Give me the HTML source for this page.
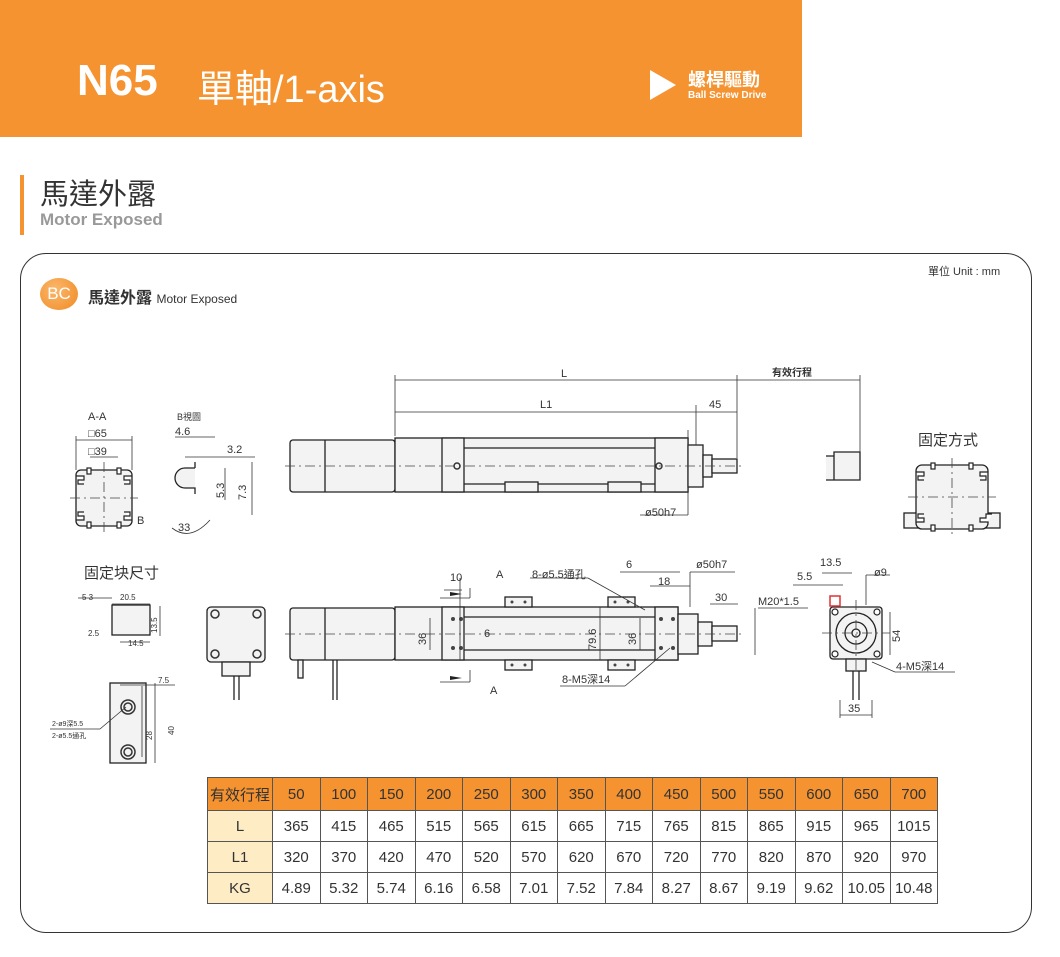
<!DOCTYPE html>
<html><head><meta charset="utf-8">
<style>
body{margin:0;width:1060px;height:957px;background:#fff;position:relative;overflow:hidden;font-family:"Liberation Sans","Noto Sans CJK TC",sans-serif;}
.hdr{position:absolute;left:0;top:0;width:802px;height:137px;background:#f59331;}
.abs{position:absolute;white-space:nowrap;}
svg text{font-family:"Liberation Sans","Noto Sans CJK TC",sans-serif;}
table{position:absolute;left:207px;top:777px;border-collapse:collapse;font-family:"Liberation Sans","Noto Sans CJK TC",sans-serif;font-size:15px;color:#333;}
td{border:1px solid #555;text-align:center;padding:0;width:46.5px;}
tr.h td{background:#f59331;height:32px;}
tr.r td{height:30px;}
td.f{background:#fdecc4;width:64px;}
tr.h td.f{background:#f59331;}
</style></head><body>
<div class="hdr"></div>
<div class="abs" style="left:77px;top:56px;font-size:44px;font-weight:bold;color:#fff;">N65</div>
<div class="abs" style="left:197px;top:58px;font-size:38px;color:#fff;">單軸/1-axis</div>
<div class="abs" style="left:650px;top:70px;width:0;height:0;border-left:26px solid #fff;border-top:15px solid transparent;border-bottom:15px solid transparent;"></div>
<div class="abs" style="left:688px;top:66px;font-size:18px;font-weight:bold;color:#fff;">螺桿驅動</div>
<div class="abs" style="left:688px;top:90px;font-size:10px;font-weight:bold;color:#fff;">Ball Screw Drive</div>
<div class="abs" style="left:20px;top:175px;width:4px;height:60px;background:#f59331;"></div>
<div class="abs" style="left:40px;top:171px;font-size:29px;color:#333;">馬達外露</div>
<div class="abs" style="left:40px;top:210px;font-size:17px;font-weight:bold;color:#999;">Motor Exposed</div>
<div class="abs" style="left:20px;top:253px;width:1010px;height:678px;border:1.5px solid #333;border-radius:26px;"></div>
<div class="abs" style="left:40px;top:278px;width:38px;height:32px;border-radius:50%;background:radial-gradient(circle at 40% 35%,#fbb76c,#f08a22);color:#fff;font-size:17px;text-align:center;line-height:32px;">BC</div>
<div class="abs" style="left:88px;top:284px;font-size:16px;font-weight:bold;color:#333;">馬達外露 <span style="font-weight:normal;font-size:12px;">Motor Exposed</span></div>
<div class="abs" style="left:928px;top:263px;font-size:11px;color:#333;">單位 Unit : mm</div>

<svg class="abs" style="left:0;top:0" width="1060" height="957" viewBox="0 0 1060 957">
<g stroke="#222" stroke-width="1.3" fill="#f3f3f3">
<rect x="290" y="440" width="105" height="52" rx="3"/>
<line x1="325" y1="440" x2="325" y2="492"/>
<rect x="395" y="438" width="293" height="54"/>
<rect x="442" y="438" width="22" height="54"/>
<rect x="655" y="438" width="33" height="54"/>
<rect x="688" y="445" width="15" height="42"/>
<rect x="703" y="455" width="9" height="22"/>
<rect x="712" y="459" width="25" height="14"/>
<line x1="464" y1="448" x2="655" y2="448"/><line x1="464" y1="484" x2="655" y2="484"/>
<rect x="505" y="482" width="33" height="10"/><rect x="608" y="482" width="33" height="10"/>
<rect x="290" y="608" width="105" height="52" rx="3"/>
<line x1="325" y1="608" x2="325" y2="660"/>
<rect x="395" y="607" width="283" height="53"/>
<rect x="442" y="607" width="22" height="53"/>
<rect x="655" y="607" width="23" height="53"/>
<rect x="678" y="614" width="20" height="40"/>
<rect x="698" y="622" width="14" height="24"/>
<rect x="712" y="626" width="25" height="15"/>
<line x1="464" y1="617" x2="655" y2="617"/><line x1="464" y1="650" x2="655" y2="650"/>
<rect x="505" y="597" width="27" height="10"/><rect x="608" y="597" width="27" height="10"/>
<rect x="505" y="660" width="27" height="10"/><rect x="608" y="660" width="27" height="10"/>
<rect x="298" y="660" width="5" height="18"/><line x1="333" y1="660" x2="333" y2="700"/><line x1="337" y1="660" x2="337" y2="700"/>
<path d="M826 456h8v24h-8M834 452h26v28h-26z"/>
<rect x="76" y="470" width="56" height="56" rx="5"/>
<rect x="904" y="513" width="18" height="15"/><rect x="982" y="513" width="18" height="15"/>
<rect x="916" y="465" width="72" height="64" rx="6"/>
<path d="M195 468h-10a10 10 0 0 0 0 20h10v6M195 468v-6" fill="#f3f3f3"/>
<rect x="207" y="607" width="58" height="55" rx="4"/>
<rect x="222" y="662" width="28" height="14"/>
<line x1="234" y1="676" x2="234" y2="700"/><line x1="239" y1="676" x2="239" y2="700"/>
<rect x="110" y="683" width="36" height="80"/>
<rect x="112" y="605" width="38" height="30"/>
<rect x="830" y="607" width="52" height="52" rx="3"/>
<circle cx="856" cy="633" r="20"/><circle cx="856" cy="633" r="11"/><circle cx="856" cy="633" r="4"/>
<rect x="846" y="659" width="20" height="12"/>
<line x1="853" y1="671" x2="853" y2="700"/><line x1="859" y1="671" x2="859" y2="700"/>
</g>
<g fill="#fff" stroke="#222" stroke-width="1.2">
<path d="M76 476h8v4h-6v4h6M132 476h-8v4h6v4h-6M76 520h8v-4h-6v-4h6M132 520h-8v-4h6v-4h-6"/>
<path d="M916 472h8v4h-6v4h6M988 472h-8v4h6v4h-6M916 522h8v-4h-6v-4h6M988 522h-8v-4h6v-4h6"/>
<rect x="87" y="522" width="4" height="6"/><rect x="117" y="522" width="4" height="6"/>
<rect x="87" y="468" width="4" height="6"/><rect x="117" y="468" width="4" height="6"/>
<rect x="931" y="525" width="4" height="6"/><rect x="969" y="525" width="4" height="6"/>
<rect x="931" y="463" width="4" height="6"/><rect x="969" y="463" width="4" height="6"/>
<circle cx="835" cy="612" r="3"/><circle cx="877" cy="612" r="3"/><circle cx="835" cy="654" r="3"/><circle cx="877" cy="654" r="3"/>
</g>
<rect x="830" y="596" width="10" height="10" fill="#fff" stroke="#d33" stroke-width="1.5"/>
<g fill="none" stroke="#333" stroke-width="1.5">
<circle cx="128" cy="707" r="7"/><circle cx="128" cy="707" r="4"/>
<circle cx="128" cy="752" r="7"/><circle cx="128" cy="752" r="4"/>
<circle cx="215" cy="614" r="4"/><circle cx="257" cy="614" r="4"/><circle cx="215" cy="654" r="4"/><circle cx="257" cy="654" r="4"/>
<circle cx="457" cy="466" r="3"/><circle cx="659" cy="466" r="3"/>
</g>
<g fill="#444">
<circle cx="453" cy="619" r="2"/><circle cx="461" cy="619" r="2"/><circle cx="453" cy="648" r="2"/><circle cx="461" cy="648" r="2"/>
<circle cx="661" cy="619" r="2"/><circle cx="673" cy="619" r="2"/><circle cx="661" cy="648" r="2"/><circle cx="673" cy="648" r="2"/>
<circle cx="512" cy="602" r="1.5"/><circle cx="525" cy="602" r="1.5"/><circle cx="615" cy="602" r="1.5"/><circle cx="628" cy="602" r="1.5"/>
<circle cx="512" cy="665" r="1.5"/><circle cx="525" cy="665" r="1.5"/><circle cx="615" cy="665" r="1.5"/><circle cx="628" cy="665" r="1.5"/>
</g>
<g stroke="#444" stroke-width="0.8" fill="none" stroke-dasharray="10,4,2,4">
<line x1="285" y1="466" x2="745" y2="466"/><line x1="285" y1="634" x2="745" y2="634"/>
<line x1="70" y1="498" x2="138" y2="498"/><line x1="104" y1="462" x2="104" y2="532"/>
<line x1="908" y1="497" x2="996" y2="497"/><line x1="952" y1="458" x2="952" y2="535"/>
<line x1="822" y1="633" x2="890" y2="633"/><line x1="856" y1="600" x2="856" y2="670"/>
</g>
<g stroke="#333" stroke-width="0.8" fill="none">
<line x1="395" y1="380" x2="860" y2="380"/><line x1="395" y1="412" x2="737" y2="412"/>
<line x1="395" y1="375" x2="395" y2="436"/><line x1="737" y1="375" x2="737" y2="458"/><line x1="860" y1="375" x2="860" y2="452"/>
<line x1="696" y1="405" x2="696" y2="445"/>
<line x1="688" y1="430" x2="688" y2="515"/><line x1="640" y1="515" x2="688" y2="515"/>
<line x1="76" y1="440" x2="132" y2="440"/><line x1="90" y1="457" x2="118" y2="457"/>
<line x1="76" y1="436" x2="76" y2="470"/><line x1="132" y1="436" x2="132" y2="470"/>
<line x1="175" y1="437" x2="215" y2="437"/><line x1="185" y1="457" x2="255" y2="457"/>
<line x1="225" y1="468" x2="225" y2="500"/><line x1="252" y1="462" x2="252" y2="515"/>
<line x1="460" y1="578" x2="460" y2="660"/><line x1="444" y1="590" x2="462" y2="590"/>
<line x1="430" y1="618" x2="430" y2="650"/><line x1="600" y1="607" x2="600" y2="660"/><line x1="640" y1="618" x2="640" y2="650"/>
<line x1="470" y1="588" x2="470" y2="598"/><line x1="470" y1="598" x2="440" y2="598"/>
<line x1="470" y1="670" x2="470" y2="682"/><line x1="440" y1="682" x2="470" y2="682"/>
<line x1="530" y1="578" x2="588" y2="578"/><line x1="588" y1="578" x2="645" y2="610"/>
<line x1="560" y1="686" x2="625" y2="686"/><line x1="625" y1="686" x2="670" y2="648"/>
<line x1="620" y1="572" x2="680" y2="572"/><line x1="650" y1="586" x2="690" y2="586"/>
<line x1="690" y1="572" x2="735" y2="572"/><line x1="690" y1="572" x2="690" y2="607"/>
<line x1="710" y1="604" x2="738" y2="604"/><line x1="758" y1="608" x2="808" y2="608"/><line x1="755" y1="608" x2="755" y2="655"/>
<line x1="822" y1="573" x2="852" y2="573"/><line x1="793" y1="585" x2="843" y2="585"/>
<line x1="866" y1="575" x2="890" y2="575"/><line x1="866" y1="575" x2="866" y2="605"/>
<line x1="890" y1="612" x2="890" y2="655"/><line x1="872" y1="662" x2="895" y2="672"/><line x1="895" y1="672" x2="955" y2="672"/>
<line x1="840" y1="700" x2="840" y2="718"/><line x1="872" y1="700" x2="872" y2="718"/><line x1="840" y1="715" x2="872" y2="715"/>
<line x1="155" y1="683" x2="155" y2="763"/><line x1="142" y1="686" x2="142" y2="757"/><line x1="120" y1="685" x2="175" y2="685"/>
<line x1="50" y1="729" x2="100" y2="729"/><line x1="100" y1="729" x2="126" y2="707"/>
<line x1="78" y1="598" x2="112" y2="598"/><line x1="112" y1="604" x2="150" y2="604"/><line x1="160" y1="606" x2="160" y2="636"/><line x1="120" y1="642" x2="150" y2="642"/>
<path d="M172 528 Q190 542 210 520"/>
</g>
<g font-size="11" fill="#333" stroke="none">
<text x="561" y="377">L</text><text x="540" y="408">L1</text><text x="709" y="408">45</text>
<text x="772" y="376" font-weight="bold" font-size="10">有效行程</text>
<text x="645" y="516">ø50h7</text>
<text x="88" y="420">A-A</text><text x="88" y="437">□65</text><text x="88" y="455">□39</text><text x="137" y="524">B</text>
<text x="177" y="420" font-size="9">B視圖</text><text x="175" y="435">4.6</text><text x="227" y="453">3.2</text>
<text x="224" y="498" transform="rotate(-90 224 498)">5.3</text><text x="246" y="500" transform="rotate(-90 246 500)">7.3</text>
<text x="178" y="531">33</text>
<text x="918" y="445" font-size="15">固定方式</text>
<text x="84" y="578" font-size="15">固定块尺寸</text>
<text x="82" y="600" font-size="8">5  3</text><text x="120" y="600" font-size="8">20.5</text><text x="88" y="636" font-size="8">2.5</text><text x="128" y="646" font-size="8">14.5</text><text x="157" y="633" font-size="8" transform="rotate(-90 157 633)">13.5</text>
<text x="158" y="683" font-size="8">7.5</text>
<text x="52" y="726" font-size="7">2-ø9深5.5</text><text x="52" y="738" font-size="7">2-ø5.5通孔</text>
<text x="152" y="740" font-size="8" transform="rotate(-90 152 740)">28</text><text x="174" y="735" font-size="8" transform="rotate(-90 174 735)">40</text>
<text x="450" y="581">10</text><text x="496" y="578">A</text><text x="532" y="578">8-ø5.5通孔</text>
<text x="626" y="568">6</text><text x="658" y="585">18</text><text x="696" y="568">ø50h7</text><text x="715" y="601">30</text>
<text x="758" y="605">M20*1.5</text><text x="820" y="566">13.5</text><text x="797" y="580">5.5</text><text x="874" y="576">ø9</text>
<text x="426" y="645" transform="rotate(-90 426 645)">36</text><text x="484" y="637">6</text>
<text x="596" y="650" transform="rotate(-90 596 650)">79.6</text><text x="636" y="645" transform="rotate(-90 636 645)">36</text>
<text x="562" y="683">8-M5深14</text><text x="490" y="694">A</text>
<text x="900" y="642" transform="rotate(-90 900 642)">54</text><text x="896" y="670">4-M5深14</text><text x="848" y="712">35</text>
</g>
<path d="M462 594l-12 -2v4z M462 678l-12 -2v4z" fill="#222"/>
</svg>

<table>
<tr class="h"><td class="f">有效行程</td><td>50</td><td>100</td><td>150</td><td>200</td><td>250</td><td>300</td><td>350</td><td>400</td><td>450</td><td>500</td><td>550</td><td>600</td><td>650</td><td>700</td></tr>
<tr class="r"><td class="f">L</td><td>365</td><td>415</td><td>465</td><td>515</td><td>565</td><td>615</td><td>665</td><td>715</td><td>765</td><td>815</td><td>865</td><td>915</td><td>965</td><td>1015</td></tr>
<tr class="r"><td class="f">L1</td><td>320</td><td>370</td><td>420</td><td>470</td><td>520</td><td>570</td><td>620</td><td>670</td><td>720</td><td>770</td><td>820</td><td>870</td><td>920</td><td>970</td></tr>
<tr class="r"><td class="f">KG</td><td>4.89</td><td>5.32</td><td>5.74</td><td>6.16</td><td>6.58</td><td>7.01</td><td>7.52</td><td>7.84</td><td>8.27</td><td>8.67</td><td>9.19</td><td>9.62</td><td>10.05</td><td>10.48</td></tr>
</table>
</body></html>
